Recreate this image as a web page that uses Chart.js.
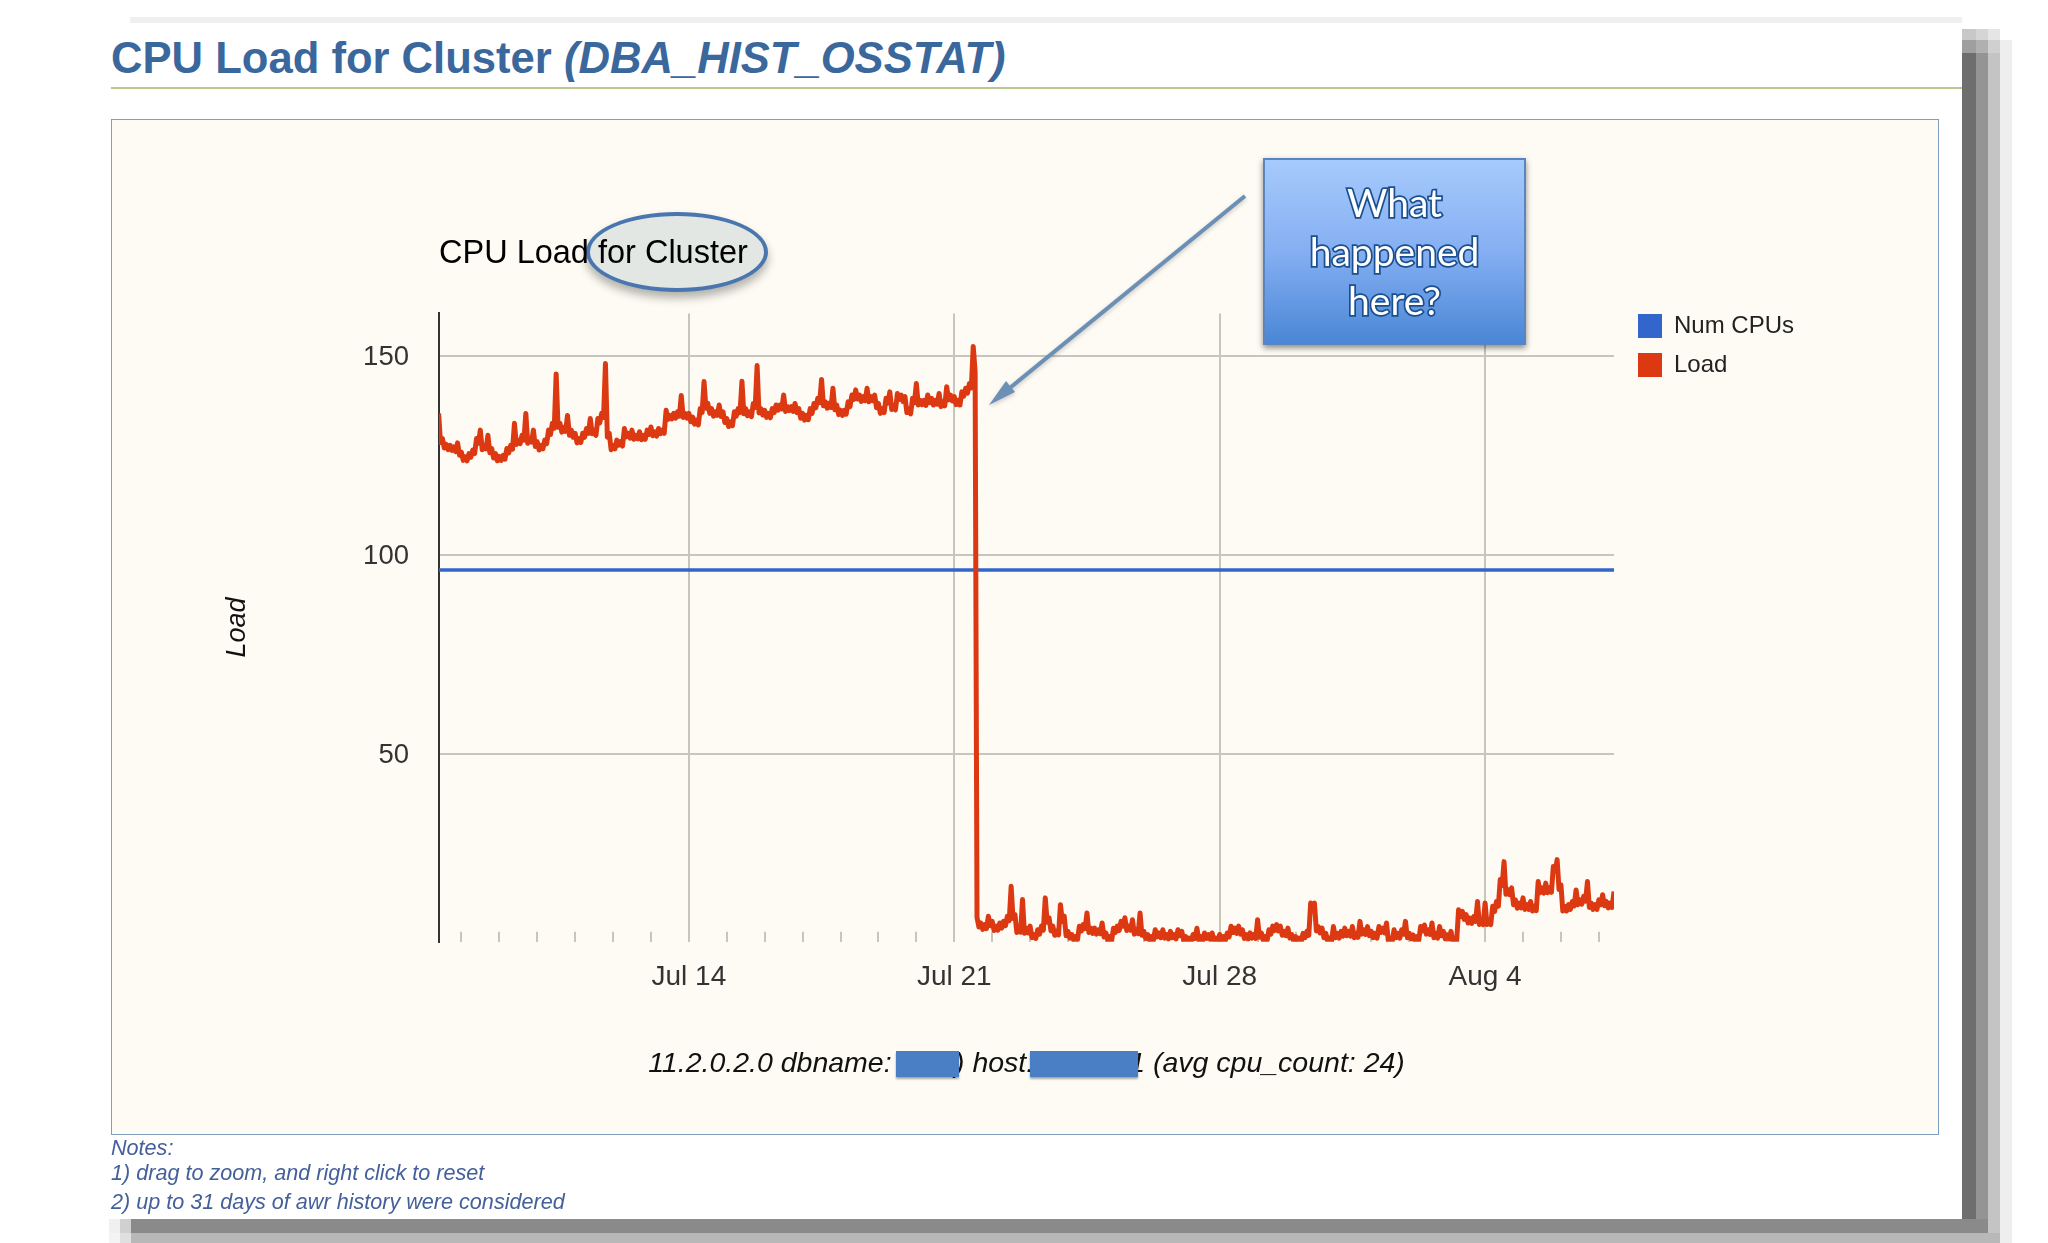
<!DOCTYPE html>
<html>
<head>
<meta charset="utf-8">
<title>CPU Load for Cluster</title>
<script src="https://cdn.jsdelivr.net/npm/chart.js@4"></script>
<style>
    html, body { margin: 0; padding: 0; background: #fff; }
    body { position: relative; width: 2048px; height: 1243px; overflow: hidden; font-family: "Liberation Sans", Arial, sans-serif; }
    .abs { position: absolute; }
    #pageTitle { left: 111px; top: 30px; font-size: 43.6px; line-height: 56px; font-weight: bold; color: #3a679c; white-space: pre; }
    #rule { left: 111px; top: 87px; width: 1851px; height: 2px; background: #bcc78f; }
    #panel { left: 111px; top: 119px; width: 1826px; height: 1014px; background: #fdfbf3; border: 1.5px solid #7f9fc0; }
    #ellipse { left: 586px; top: 212px; width: 174px; height: 72px; border: 4px solid #4a76b0; border-radius: 50%; background: #e3e7e4; box-shadow: 0 6px 10px rgba(0,0,0,.3); }
    #chartCanvas { position: absolute; left: 0; top: 0; }
    #callout { left: 1263px; top: 158px; width: 259px; height: 183px; border: 2px solid #5a86bd; box-shadow: 0 3px 6px rgba(0,0,0,.45);
        background: linear-gradient(#a6cafc 0%, #85aff2 50%, #4a87d6 100%); text-align: center; font-family: Lato, sans-serif; font-size: 39px; line-height: 49px;
        color: #fff; -webkit-text-stroke: 3.5px #1a4f90; paint-order: stroke fill; padding-top: 0; }
    #callout div:first-child { margin-top: 18px; }
    .redact { top: 1051px; height: 26px; background: #4a7fc6; box-shadow: 0 2px 2px rgba(0,0,0,.35); }
    .note { left: 111px; font-size: 21.6px; line-height: 26px; font-style: italic; color: #44609a; white-space: pre; }
    .band { position: absolute; }
</style>
</head>
<body>
    <!-- ombre de la capture -->
    <div class="band" style="left:130px;top:17px;width:1832px;height:6px;background:#f0f0f0"></div>
    <div class="band" style="left:1962px;top:29px;width:14px;height:1190px;background:linear-gradient(#c8c8c8 0 11px,#9f9f9f 11px 24px,#6e6e6e 24px)"></div>
    <div class="band" style="left:1976px;top:29px;width:12px;height:1190px;background:linear-gradient(#d5d5d5 0 11px,#b0b0b0 11px 24px,#949494 24px)"></div>
    <div class="band" style="left:1988px;top:29px;width:12px;height:1204px;background:linear-gradient(#e5e5e5 0 11px,#d0d0d0 11px 24px,#c4c4c4 24px)"></div>
    <div class="band" style="left:2000px;top:40px;width:12px;height:1203px;background:#eeeeee"></div>
    <div class="band" style="left:109px;top:1219px;width:1879px;height:14px;background:linear-gradient(90deg,#f0f0f0 0 11px,#d0d0d0 11px 22px,#8a8a8a 22px)"></div>
    <div class="band" style="left:109px;top:1233px;width:1891px;height:10px;background:linear-gradient(90deg,#f4f4f4 0 11px,#e0e0e0 11px 22px,#b8b8b8 22px)"></div>

    <div id="pageTitle" class="abs">CPU Load for Cluster <i>(DBA_HIST_OSSTAT)</i></div>
    <div id="rule" class="abs"></div>
    <div id="panel" class="abs"></div>
    <div id="ellipse" class="abs"></div>

    <canvas id="chartCanvas" width="2048" height="1243"></canvas>

    <!-- flèche et encadré d'annotation -->
    <svg class="abs" style="left:0;top:0;filter:drop-shadow(0 2px 2px rgba(0,0,0,.2))" width="2048" height="1243">
        <line x1="1245" y1="196" x2="1000" y2="396" stroke="#6c8fb6" stroke-width="4"/>
        <polygon points="989,405 1006,381 1015,392" fill="#6c8fb6"/>
    </svg>
    <div id="callout" class="abs"><div>What</div><div>happened</div><div>here?</div></div>

    <div class="redact abs" style="left:896px;width:63px"></div>
    <div class="redact abs" style="left:1030px;width:108px"></div>

    <div class="note abs" style="top:1135px">Notes:</div>
    <div class="note abs" style="top:1160px">1) drag to zoom, and right click to reset</div>
    <div class="note abs" style="top:1189px">2) up to 31 days of awr history were considered</div>

<script>
    // Axes
    const yTicks = [50, 100, 150];
    const weekLabels = { 14: 'Jul 14', 21: 'Jul 21', 28: 'Jul 28', 35: 'Aug 4' };
    const dayMin = 7.41;
    const dayMax = 38.4;
    const loadMin = 2.9;
    const loadMax = 160.6;

    // Num CPUs, ligne plate
    const cpuDays = [7.41, 38.4];
    const cpuValues = [96.2, 96.2];

    // Load, une valeur tous les 0.1 jour à partir du 7.4 juillet
    const loadStart = 7.4;
    const loadStep = 0.1;
    const loadValues = [
        135.5, 129.2, 127.7, 127.5, 127.1, 128.1,
        125.8, 124.6, 125.4, 126.3, 129.2, 131.3, 127.5, 130, 126.7, 125.4,
        124.7, 125, 126.7, 127.5, 133, 128.8, 130, 135.5, 129.2, 131.3,
        128.4, 127.5, 128.8, 131.3, 133, 145.4, 133, 132, 135, 131.3,
        130.5, 129.2, 130.5, 131.7, 134.2, 131.3, 134.2, 135.5, 148, 130.5,
        127.5, 128.8, 128.4, 131.7, 130.5, 131.3, 130, 130.9, 130, 131.3,
        132.1, 130.9, 131.7, 131.3, 136.3, 135, 135.5, 135.9, 140, 135.5,
        135.5, 134.6, 133.8, 136.7, 143.5, 138, 136.7, 135.9, 137.6, 135.9,
        134.2, 133.4, 135.9, 136.7, 143.6, 136.7, 135.9, 138, 147.5, 136.7,
        136.3, 135.5, 136.7, 137.6, 137.6, 140.1, 137.2, 137.2, 138, 136.7,
        135.5, 135, 136.7, 138, 139.3, 144, 138.4, 138, 141.8, 137.6,
        136.3, 136.3, 138.4, 140.1, 141.4, 140.1, 139.7, 141.8, 139.7, 140.1,
        138, 136.7, 139.3, 140.9, 137.6, 140.5, 140.1, 139.7, 136.7, 139.3,
        143, 138.8, 138.8, 140.1, 139.3, 138.8, 140.5, 138.4, 142.2, 140.1,
        139.7, 138.8, 140.9, 141.8, 143, 152.3, 9, 7.6, 7.2, 9.3,
        8, 6.8, 7.6, 8, 9.3, 16.8, 9.7, 6.3, 13.5, 6.3,
        6.8, 4.7, 5.9, 6.8, 13.9, 8.9, 6.8, 5.5, 12.2, 9.3,
        5.5, 4.7, 4.2, 6.8, 7.2, 10.1, 6.3, 6.3, 5.9, 7.6,
        5.1, 4.2, 6.3, 6.8, 8, 8.9, 6.8, 8.4, 5.9, 10.1,
        5.5, 4.7, 4.2, 5.9, 5.1, 5.9, 4.7, 5.5, 4.7, 5.9,
        5.5, 4.2, 3.8, 4.7, 6.3, 4.2, 5.1, 4.7, 5.1, 3.8,
        4.7, 4.2, 5.1, 6.8, 6.3, 6.8, 5.9, 4.7, 5.1, 4.7,
        8.4, 5.1, 4.2, 5.9, 6.8, 7.2, 6.8, 5.5, 6.3, 4.7,
        4.2, 3.8, 5, 5.5, 12.6, 12.6, 6.7, 6.3, 5, 3.8,
        6.7, 5, 5.5, 6.3, 5.5, 6.7, 5, 8, 5.9, 6.7,
        5.5, 5, 6.7, 6.3, 7.6, 3.8, 5.9, 5, 5.9, 8,
        5, 4.6, 4.2, 6.7, 7.1, 5.9, 7.6, 5, 6.7, 5.5,
        4.6, 5.5, 3.8, 10.9, 10.5, 9.7, 8.8, 9.2, 13, 8.4,
        12.6, 8.4, 11.8, 13, 18.5, 23, 16, 16.4, 13.4, 12.6,
        13.9, 12.2, 13, 11.8, 18, 16.4, 17.6, 16.4, 21.8, 23.5,
        17.2, 11.8, 12.2, 13, 15.9, 13.4, 14.3, 18, 12.6, 12.2,
        13.4, 14.7, 13, 12.6, 15.5
    ];

    // Creux de la bande entre deux valeurs de loadValues
    const loadDips = [
        128.2, 126.8, 126.4, 126.2, 125.9, 125,
        123.7, 123.6, 124.5, 125.4, 128, 126.4, 126.6, 125.6, 124.3, 123.6,
        123.7, 124, 125.6, 126.5, 127.7, 127.9, 128.8, 128, 128.3, 127.2,
        126.3, 126.6, 127.9, 130.2, 131.8, 132, 130.8, 131, 130, 129.5,
        128.1, 128.2, 129.5, 130.5, 130.4, 130, 133.1, 134.5, 129.5, 126.4,
        126.6, 127.5, 127.3, 129.6, 129.3, 129, 129.1, 128.9, 129, 130.2,
        129.9, 129.8, 130.4, 130.5, 134, 134.1, 134.3, 134.8, 134.5, 134.3,
        133.4, 132.8, 132.6, 135.7, 136.8, 135.5, 134.8, 135, 134.7, 133.2,
        132.2, 132.4, 134.8, 135.7, 135.4, 134.9, 134.7, 137, 135.6, 135.1,
        134.5, 134.4, 135.7, 136.3, 136.6, 136, 136.2, 136, 135.7, 134.3,
        133.8, 133.9, 135.5, 136.9, 138.2, 137.4, 136.8, 137, 136.4, 135.2,
        135, 135.3, 137.2, 139, 139.1, 138.5, 138.7, 138.4, 138.7, 136.9,
        135.5, 135.7, 138.1, 136.5, 136.4, 139, 138.5, 135.7, 135.4, 138.2,
        137.6, 137.7, 137.5, 138.2, 137.6, 137.8, 137.2, 137.4, 138.9, 138.6,
        137.7, 137.6, 139.8, 140.6, 141.9, 146, 6.6, 6, 6.2, 6.9,
        5.7, 5.8, 6.3, 6.9, 8.2, 8.7, 5.2, 5.3, 5, 5.1,
        3.9, 3.7, 4.8, 5.8, 7.8, 5.6, 4.5, 4.6, 8, 4.4,
        3.8, 3.3, 3.4, 5.6, 6.2, 5.2, 5, 4.8, 4.9, 4.1,
        3.3, 3.2, 5.2, 5.7, 6.8, 5.7, 5.8, 4.8, 4.9, 4.5,
        3.7, 3.3, 3.2, 4.1, 3.9, 3.8, 3.6, 3.9, 3.6, 4.4,
        3.3, 3, 3, 3.7, 3.3, 3.1, 3.7, 3.5, 3.1, 3,
        3.3, 3.2, 4.1, 5.2, 5, 4.8, 3.7, 3.6, 3.8, 3.7,
        4, 3.2, 3.2, 4.8, 5.7, 5.6, 4.5, 4.4, 3.8, 3.2,
        3, 3, 3.9, 4.5, 11.2, 5.6, 5.1, 3.9, 3, 3,
        3.9, 3.8, 4.3, 4.4, 4.3, 3.9, 4, 4.8, 4.7, 4.4,
        3.9, 3.8, 5.2, 5.1, 3, 3, 3.9, 3.8, 4.8, 3.9,
        3.6, 3.2, 3.2, 5.6, 4.8, 4.7, 3.9, 3.8, 4.4, 3.6,
        3.6, 3, 3, 9.2, 8.5, 7.6, 7.5, 8, 7.2, 7.2,
        7.2, 7.2, 10.5, 11.8, 17, 14.8, 14.7, 12.2, 11.3, 11.4,
        11, 11, 10.6, 10.7, 15.2, 15.1, 15.2, 15.3, 20.6, 16,
        10.6, 10.6, 11, 11.9, 12.2, 12.3, 13.1, 11.5, 11, 11,
        12.2, 11.9, 11.4, 11.5
    ];

    const footerText = '11.2.0.2.0 dbname:        ) host:            1 (avg cpu_count: 24)';

    // Bande de charge : chaque valeur suivie de son creux
    const loadPoints = loadValues.flatMap((v, i) => {
        const day = loadStart + i * loadStep;
        const points = [{ x: day, y: v }];
        if (i < loadDips.length) {
            points.push({ x: day + loadStep / 2, y: loadDips[i] });
        }
        return points;
    });

    Chart.defaults.font.family = '"Liberation Sans", Arial, sans-serif';

    // Place la légende à sa position exacte, hors du calcul de la mise en page
    const legendPlacer = {
        id: 'legendPlacer',
        afterLayout(chart) {
            chart.legend.left = 1623;
            chart.legend.right = 1930;
            chart.legend.top = 299;
            chart.legend.bottom = 400;
        }
    };

    new Chart(document.getElementById('chartCanvas'), {
        type: 'line',
        data: {
            datasets: [
                {
                    label: 'Num CPUs',
                    data: cpuDays.map((d, i) => ({ x: d, y: cpuValues[i] })),
                    borderColor: '#3366cc',
                    backgroundColor: '#3366cc',
                    borderWidth: 3.5,
                    pointRadius: 0,
                    order: 2
                },
                {
                    label: 'Load',
                    data: loadPoints,
                    borderColor: '#dc3912',
                    backgroundColor: '#dc3912',
                    borderWidth: 5,
                    borderJoinStyle: 'round',
                    pointRadius: 0,
                    tension: 0,
                    order: 1
                }
            ]
        },
        options: {
            responsive: false,
            animation: false,
            devicePixelRatio: 1,
            layout: {
                autoPadding: false,
                padding: { left: 221, right: 434, top: 234.5, bottom: 162.3 }
            },
            plugins: {
                tooltip: { enabled: false },
                title: {
                    display: true,
                    text: 'CPU Load for Cluster',
                    align: 'start',
                    fullSize: false,
                    color: '#000',
                    font: { size: 32.5, weight: 'normal' },
                    padding: { top: 0, bottom: 39.9 }
                },
                legend: {
                    position: 'chartArea',
                    align: 'start',
                    labels: {
                        boxWidth: 24,
                        boxHeight: 24,
                        padding: 15,
                        color: '#222',
                        font: { size: 24 },
                        sort: (a, b) => a.datasetIndex - b.datasetIndex,
                        generateLabels: (chart) => Chart.defaults.plugins.legend.labels.generateLabels(chart)
                            .map(item => ({ ...item, lineWidth: 0 }))
                    }
                }
            },
            scales: {
                x: {
                    type: 'linear',
                    min: dayMin,
                    max: dayMax,
                    afterFit: (scale) => { scale.height = 139; },
                    border: { display: false },
                    grid: {
                        color: (ctx) => weekLabels[ctx.tick.value] ? '#c6c5be' : 'transparent',
                        lineWidth: 2,
                        tickLength: -10,
                        tickColor: '#c6c5be',
                        tickWidth: 2
                    },
                    ticks: {
                        stepSize: 1,
                        includeBounds: false,
                        autoSkip: false,
                        maxRotation: 0,
                        padding: 29,
                        color: '#333',
                        font: { size: 28 },
                        callback: (value) => weekLabels[value] || ''
                    },
                    title: {
                        display: true,
                        text: footerText,
                        color: '#111',
                        font: { size: 28.5, style: 'italic' },
                        padding: 0
                    }
                },
                y: {
                    min: loadMin,
                    max: loadMax,
                    afterFit: (scale) => { scale.width = 218; },
                    afterBuildTicks: (scale) => { scale.ticks = yTicks.map(v => ({ value: v })); },
                    border: { color: '#333', width: 2 },
                    grid: { color: '#c6c5be', lineWidth: 2, drawTicks: false },
                    ticks: {
                        padding: 30,
                        labelOffset: 1.5,
                        color: '#333',
                        font: { size: 27.5 }
                    },
                    title: {
                        display: true,
                        text: 'Load',
                        color: '#111',
                        font: { size: 27, style: 'italic' },
                        padding: 0
                    }
                }
            }
        },
        plugins: [legendPlacer]
    });
</script>
</body>
</html>
